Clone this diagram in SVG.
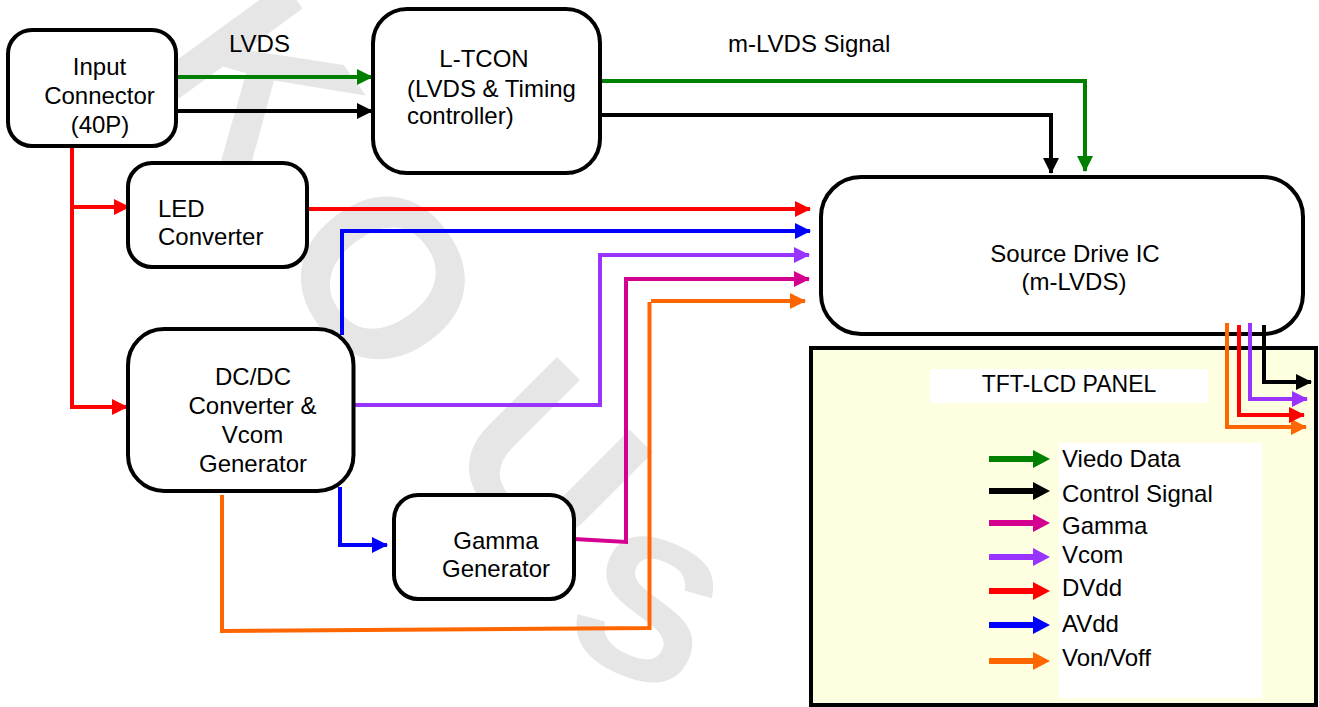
<svg xmlns="http://www.w3.org/2000/svg" width="1319" height="707" viewBox="0 0 1319 707">
  <defs>
    <style>
      .box { fill: #ffffff; stroke: #000000; stroke-width: 4; }
      .lbl { font-family: "Liberation Sans", Arial, sans-serif; font-size: 24px; fill: #000000; }
      .mid { text-anchor: middle; }
      .wire { fill: none; stroke-width: 4; stroke-linejoin: miter; }
      .wm { font-family: "Liberation Sans", Arial, sans-serif; font-weight: bold; font-size: 225px; fill: #e6e6e6; text-anchor: middle; }
    </style>
    <marker id="ah-green" markerUnits="userSpaceOnUse" markerWidth="16" markerHeight="16" refX="15" refY="8" orient="auto"><path d="M0,0 L16,8 L0,16 Z" fill="#008000"/></marker>
    <marker id="ah-black" markerUnits="userSpaceOnUse" markerWidth="16" markerHeight="16" refX="15" refY="8" orient="auto"><path d="M0,0 L16,8 L0,16 Z" fill="#000000"/></marker>
    <marker id="ah-red" markerUnits="userSpaceOnUse" markerWidth="16" markerHeight="16" refX="15" refY="8" orient="auto"><path d="M0,0 L16,8 L0,16 Z" fill="#ff0000"/></marker>
    <marker id="ah-blue" markerUnits="userSpaceOnUse" markerWidth="16" markerHeight="16" refX="15" refY="8" orient="auto"><path d="M0,0 L16,8 L0,16 Z" fill="#0000ff"/></marker>
    <marker id="ah-purple" markerUnits="userSpaceOnUse" markerWidth="16" markerHeight="16" refX="15" refY="8" orient="auto"><path d="M0,0 L16,8 L0,16 Z" fill="#9933ff"/></marker>
    <marker id="ah-magenta" markerUnits="userSpaceOnUse" markerWidth="16" markerHeight="16" refX="15" refY="8" orient="auto"><path d="M0,0 L16,8 L0,16 Z" fill="#d4008f"/></marker>
    <marker id="ah-orange" markerUnits="userSpaceOnUse" markerWidth="16" markerHeight="16" refX="15" refY="8" orient="auto"><path d="M0,0 L16,8 L0,16 Z" fill="#ff6600"/></marker>
    <!-- block arrow used in the legend -->
    <path id="legend-arrow" d="M0,-3 H44 V-9 L61,0 L44,9 V3 H0 Z"/>
  </defs>

  <rect width="1319" height="707" fill="#ffffff"/>

  <!-- background watermark letters, each turned on its own -->
  <g id="watermark">
    <text class="wm" transform="translate(262,80) rotate(54)" y="80">K</text>
    <text class="wm" transform="translate(385,277) rotate(54)" y="80">O</text>
    <text class="wm" transform="translate(552,458) rotate(45)" y="80">U</text>
    <text class="wm" transform="translate(648,606) rotate(24)" y="72" style="font-size:200px">S</text>
  </g>

  <!-- signal lines -->
  <g id="connectors">
    <!-- LVDS in -->
    <path class="wire" stroke="#008000" d="M176,77 H372" marker-end="url(#ah-green)"/>
    <path class="wire" stroke="#000000" d="M176,111 H372" marker-end="url(#ah-black)"/>
    <!-- m-LVDS out of L-TCON -->
    <path class="wire" stroke="#008000" d="M600,81 H1085 V171" marker-end="url(#ah-green)"/>
    <path class="wire" stroke="#000000" d="M600,115 H1051 V173" marker-end="url(#ah-black)"/>
    <!-- DVdd feed -->
    <path class="wire" stroke="#ff0000" d="M72,147 V407 H127" marker-end="url(#ah-red)"/>
    <path class="wire" stroke="#ff0000" d="M72,207 H129" marker-end="url(#ah-red)"/>
    <path class="wire" stroke="#ff0000" d="M307,209 H810" marker-end="url(#ah-red)"/>
    <!-- AVdd -->
    <path class="wire" stroke="#0000ff" d="M342,335 V231 H810" marker-end="url(#ah-blue)"/>
    <path class="wire" stroke="#0000ff" d="M340,487 V545 H387" marker-end="url(#ah-blue)"/>
    <!-- Vcom -->
    <path class="wire" stroke="#9933ff" d="M354,405 H600 V255 H809" marker-end="url(#ah-purple)"/>
    <!-- Gamma -->
    <path class="wire" stroke="#d4008f" d="M574,539 L626,542 V279 H809" marker-end="url(#ah-magenta)"/>
    <!-- Von/Voff -->
    <path class="wire" stroke="#ff6600" d="M222,495 V631 L649.5,628 V302"/>
    <path class="wire" stroke="#ff6600" d="M651,301 H805" marker-end="url(#ah-orange)"/>
  </g>

  <g id="input-connector">
    <rect class="box" x="8" y="30" width="168" height="116" rx="24"/>
    <text class="lbl mid" x="99.5" y="75">Input</text>
    <text class="lbl mid" x="99.5" y="104">Connector</text>
    <text class="lbl mid" x="100" y="133">(40P)</text>
  </g>

  <text id="label-lvds" class="lbl" x="229" y="52">LVDS</text>
  <text id="label-mlvds" class="lbl" x="728" y="52">m-LVDS Signal</text>

  <g id="l-tcon">
    <rect class="box" x="373" y="9" width="227" height="164" rx="34"/>
    <text class="lbl mid" x="484" y="67">L-TCON</text>
    <text class="lbl" x="407" y="97">(LVDS &amp; Timing</text>
    <text class="lbl" x="407" y="124">controller)</text>
  </g>

  <g id="led-converter">
    <rect class="box" x="128" y="163" width="179" height="104" rx="24"/>
    <text class="lbl" x="158" y="217">LED</text>
    <text class="lbl" x="158" y="245">Converter</text>
  </g>

  <g id="dcdc-converter">
    <rect class="box" x="128" y="329" width="225.5" height="162" rx="36"/>
    <text class="lbl mid" x="253" y="385">DC/DC</text>
    <text class="lbl mid" x="252.5" y="414">Converter &amp;</text>
    <text class="lbl mid" x="252.5" y="443">Vcom</text>
    <text class="lbl mid" x="253" y="472">Generator</text>
  </g>

  <g id="gamma-generator">
    <rect class="box" x="394" y="495" width="180" height="104" rx="24"/>
    <text class="lbl mid" x="496" y="549">Gamma</text>
    <text class="lbl mid" x="496" y="577">Generator</text>
  </g>

  <g id="source-drive-ic">
    <rect class="box" x="821" y="177" width="482" height="157" rx="40"/>
    <text class="lbl mid" x="1075" y="262">Source Drive IC</text>
    <text class="lbl mid" x="1074" y="290">(m-LVDS)</text>
  </g>

  <g id="tft-lcd-panel">
    <rect x="811" y="348" width="505" height="357" fill="#fefee0" stroke="#000000" stroke-width="4"/>
    <rect x="930" y="369" width="278" height="34" fill="#ffffff"/>
    <text class="lbl mid" x="1069" y="392" style="font-size:23px">TFT-LCD PANEL</text>
  </g>

  <!-- outputs from the source driver into the panel -->
  <g id="panel-feeds">
    <path class="wire" stroke="#ff6600" d="M1227,323 V427 H1306" marker-end="url(#ah-orange)"/>
    <path class="wire" stroke="#ff0000" d="M1239,325 V415 H1304" marker-end="url(#ah-red)"/>
    <path class="wire" stroke="#9933ff" d="M1250,323 V399 H1307" marker-end="url(#ah-purple)"/>
    <path class="wire" stroke="#000000" d="M1264,325 V382 H1311" marker-end="url(#ah-black)"/>
  </g>

  <g id="legend">
    <rect x="1059" y="443" width="203" height="255" fill="#ffffff"/>
    <use href="#legend-arrow" x="989" y="459" fill="#008000"/>
    <use href="#legend-arrow" x="989" y="491" fill="#000000"/>
    <use href="#legend-arrow" x="989" y="523" fill="#d4008f"/>
    <use href="#legend-arrow" x="989" y="557" fill="#9933ff"/>
    <use href="#legend-arrow" x="989" y="591" fill="#ff0000"/>
    <use href="#legend-arrow" x="989" y="625" fill="#0000ff"/>
    <use href="#legend-arrow" x="989" y="661" fill="#ff6600"/>
    <text class="lbl" x="1062" y="467">Viedo Data</text>
    <text class="lbl" x="1062" y="502">Control Signal</text>
    <text class="lbl" x="1062" y="534">Gamma</text>
    <text class="lbl" x="1062" y="563">Vcom</text>
    <text class="lbl" x="1062" y="596">DVdd</text>
    <text class="lbl" x="1062" y="632">AVdd</text>
    <text class="lbl" x="1062" y="666">Von/Voff</text>
  </g>
</svg>
